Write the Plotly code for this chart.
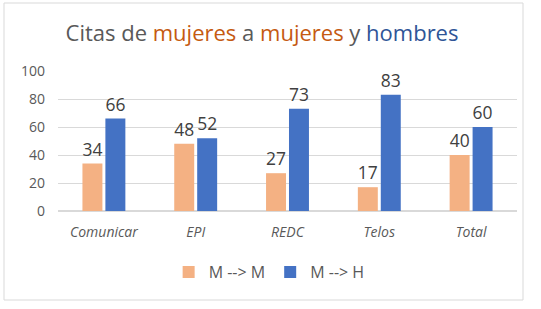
import plotly.graph_objects as go

categories = ["Comunicar", "EPI", "REDC", "Telos", "Total"]
mm_values = [34, 48, 27, 17, 40]
mh_values = [66, 52, 73, 83, 60]
series_names = ["M --> M", "M --> H"]
y_ticks = [0, 20, 40, 60, 80, 100]

W, H = 541, 309
L, R, T, B = 58, 24, 71, 98
pw = W - L - R
ph = H - T - B

font_family = "Open Sans, Liberation Sans, sans-serif"

fig = go.Figure()
fig.add_trace(go.Bar(x=categories, y=mm_values, name=series_names[0],
                     marker=dict(color="#F4B183", line=dict(width=0)),
                     text=mm_values, textposition="outside",
                     textfont=dict(size=18, color="#404040"), cliponaxis=False))
fig.add_trace(go.Bar(x=categories, y=mh_values, name=series_names[1],
                     marker=dict(color="#4472C4", line=dict(width=0)),
                     text=mh_values, textposition="outside",
                     textfont=dict(size=18, color="#404040"), cliponaxis=False))

fig.update_layout(
    width=W, height=H,
    margin=dict(l=L, r=R, t=T, b=B, pad=0),
    paper_bgcolor="white", plot_bgcolor="white",
    barmode="group", bargap=0.5, bargroupgap=0.13,
    font=dict(family=font_family, color="#595959"),
    title=dict(
        text="Citas de <span style='color:#C55A11'>mujeres</span> a "
             "<span style='color:#C55A11'>mujeres</span> y "
             "<span style='color:#2F5597'>hombres</span>",
        x=(262 - 0) / W, xanchor="center", y=1 - 33 / H, yanchor="middle",
        font=dict(size=22, color="#595959", family=font_family)),
    xaxis=dict(showgrid=False, showline=False, ticks="",
               tickfont=dict(size=14, color="#595959", family=font_family, style="italic"),
               ticklabelstandoff=11),
    yaxis=dict(range=[0, 100], tickvals=y_ticks, showgrid=True, gridcolor="#D9D9D9",
               gridwidth=1, zeroline=True, zerolinecolor="#D9D9D9", showline=False,
               tickfont=dict(size=14, color="#595959", family=font_family),
               ticklabelstandoff=12),
    legend=dict(orientation="h", x=0.46, xanchor="center", y=(211 - 272) / ph,
                yanchor="middle", font=dict(size=16, color="#595959", family=font_family),
                itemwidth=30, traceorder="normal"),
    showlegend=True,
)

# chart border
fig.add_shape(type="rect", xref="paper", yref="paper",
              x0=(4 - L) / pw, x1=(523 - L) / pw,
              y0=(211 - 300) / ph, y1=(211 - 3) / ph,
              line=dict(color="#D9D9D9", width=1), fillcolor="rgba(0,0,0,0)", layer="below")

fig.write_html("out.html", config={"displayModeBar": False},
               post_script="document.body.style.margin='0';document.body.style.overflow='hidden';")
